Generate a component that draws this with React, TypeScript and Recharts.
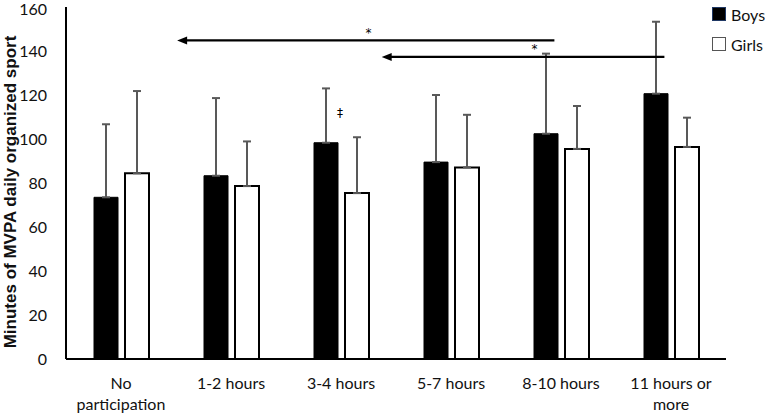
import { BarChart, Bar, XAxis, YAxis, ErrorBar, ReferenceLine, ReferenceDot } from "recharts";

const categories = ["No participation", "1-2 hours", "3-4 hours", "5-7 hours", "8-10 hours", "11 hours or more"];
const boysMean = [73.5, 83.3, 98.3, 89.5, 102.4, 120.6];
const boysUpper = [106.7, 118.6, 123, 120, 138.8, 153.3];
const girlsMean = [84.4, 78.6, 75.4, 87.1, 95.5, 96.4];
const girlsUpper = [121.8, 98.9, 100.8, 111, 115, 109.7];
const yTicks = [0, 20, 40, 60, 80, 100, 120, 140, 160];

// annotation positions in category units (0..6) and minutes
const arrows = [
  { from: 4.44, to: 1.01, y: 144.8 },
  { from: 5.44, to: 2.87, y: 137.3 },
];
const marks = [
  { x: 2.75, y: 148.4, text: "*" },
  { x: 4.26, y: 140.9, text: "*" },
  { x: 2.49, y: 111.8, text: "‡" },
];

const data = categories.map((name, i) => ({
  name,
  pos: i + 0.5,
  boys: boysMean[i],
  girls: girlsMean[i],
  boysErr: [0, boysUpper[i] - boysMean[i]],
  girlsErr: [0, girlsUpper[i] - girlsMean[i]],
}));

const font = "Lato, 'Open Sans', sans-serif";

const wrapLabel = (s: string) => {
  if (s === "No participation") return ["No", "participation"];
  if (s === "11 hours or more") return ["11 hours or", "more"];
  return [s];
};

const XTick = (props: any) => {
  const { x, y, payload } = props;
  const lines = wrapLabel(payload.value);
  return (
    <text x={x} y={y} textAnchor="middle" fontFamily={font} fontSize={16} fill="#111">
      {lines.map((l, i) => (
        <tspan key={i} x={x} dy={i === 0 ? 22 : 21}>
          {l}
        </tspan>
      ))}
    </text>
  );
};

const ArrowShape = (props: any) => {
  const { x1, y1, x2, y2 } = props;
  const dir = x2 < x1 ? -1 : 1;
  return (
    <g>
      <line x1={x1} y1={y1} x2={x2 - dir * 8} y2={y2} stroke="#000" strokeWidth={2.2} />
      <polygon points={`${x2},${y2} ${x2 - dir * 10},${y2 - 4} ${x2 - dir * 10},${y2 + 4}`} fill="#000" />
    </g>
  );
};

const Legend = () => (
  <div style={{ position: "absolute", left: 712, top: 6, fontFamily: font, fontSize: 16, color: "#111" }}>
    <div style={{ display: "flex", alignItems: "center", height: 16, marginBottom: 14 }}>
      <span style={{ width: 12, height: 12, background: "#000", border: "1px solid #1f3864", marginRight: 5 }} />
      Boys
    </div>
    <div style={{ display: "flex", alignItems: "center", height: 16 }}>
      <span style={{ width: 12, height: 12, background: "#fff", border: "1px solid #555", marginRight: 5 }} />
      Girls
    </div>
  </div>
);

export default function App() {
  return (
    <div style={{ position: "absolute", left: 0, top: 0, width: 765, height: 416, background: "#fff" }}>
      <BarChart
        width={765}
        height={416}
        data={data}
        margin={{ top: 7, right: 39, bottom: 0, left: 0 }}
        barSize={24}
        barGap={7}
      >
        <XAxis
          dataKey="name"
          height={57}
          axisLine={{ stroke: "#000", strokeWidth: 2 }}
          tickLine={false}
          tick={<XTick />}
          interval={0}
        />
        <XAxis
          xAxisId="ann"
          dataKey="pos"
          type="number"
          domain={[0, 6]}
          allowDataOverflow
          padding={{ left: 0, right: 0 }}
          hide
        />
        <YAxis
          domain={[0, 160]}
          ticks={yTicks}
          width={66}
          axisLine={{ stroke: "#000", strokeWidth: 2 }}
          tickLine={false}
          tickMargin={13}
          tick={{ fontFamily: font, fontSize: 16, fill: "#111" }}
          label={{
            content: (p: any) => {
              const vb = p.viewBox;
              const cx = 10;
              const cy = vb.y + vb.height / 2 + 9;
              return (
                <text
                  x={cx}
                  y={cy}
                  transform={`rotate(-90, ${cx}, ${cy})`}
                  textAnchor="middle"
                  dominantBaseline="central"
                  fontFamily="'Liberation Sans', Arial, sans-serif"
                  fontWeight="bold"
                  fontSize={17}
                  fill="#111"
                >
                  Minutes of MVPA daily organized sport
                </text>
              );
            },
          }}
        />
        <Bar dataKey="boys" fill="#000" stroke="#000" strokeWidth={1} isAnimationActive={false}>
          <ErrorBar dataKey="boysErr" direction="y" width={4} stroke="#595959" strokeWidth={2} />
        </Bar>
        <Bar dataKey="girls" fill="#fff" stroke="#000" strokeWidth={2} isAnimationActive={false}>
          <ErrorBar dataKey="girlsErr" direction="y" width={4} stroke="#595959" strokeWidth={2} />
        </Bar>
        {arrows.map((a, i) => (
          <ReferenceLine
            key={`a${i}`}
            xAxisId="ann"
            segment={[
              { x: a.from, y: a.y },
              { x: a.to, y: a.y },
            ]}
            ifOverflow="visible"
            shape={<ArrowShape />}
          />
        ))}
        {marks.map((m, i) => (
          <ReferenceDot
            key={`m${i}`}
            xAxisId="ann"
            x={m.x}
            y={m.y}
            r={0}
            ifOverflow="visible"
            shape={(p: any) => (
              <text
                x={p.cx}
                y={p.cy}
                textAnchor="middle"
                dominantBaseline="central"
                fontFamily="'DejaVu Sans', sans-serif"
                fontSize={12}
                fill="#000"
              >
                {m.text}
              </text>
            )}
          />
        ))}
      </BarChart>
      <Legend />
    </div>
  );
}
